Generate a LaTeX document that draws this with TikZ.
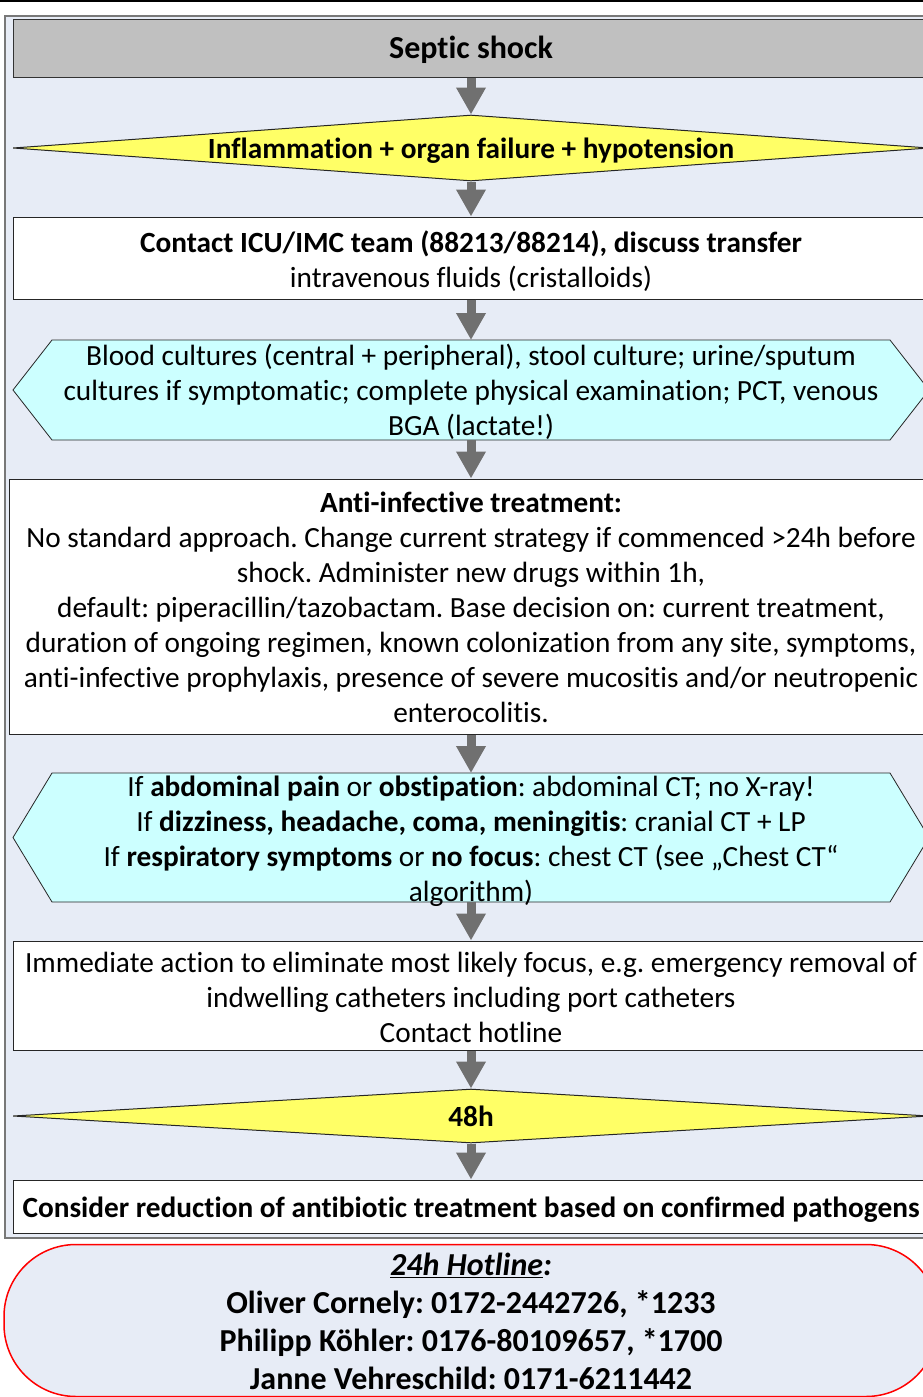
\documentclass[tikz,border=0pt]{standalone}
\usepackage{fontspec}
\setmainfont{Carlito}[Ligatures={TeX,CommonOff}]
\usetikzlibrary{shapes.geometric,arrows.meta}
\pgfdeclarelayer{back}
\pgfdeclarelayer{mid}
\pgfsetlayers{back,mid,main}
\definecolor{panelbg}{RGB}{231,236,246}
\definecolor{panelline}{RGB}{120,120,120}
\definecolor{hdrfill}{RGB}{192,192,192}
\definecolor{decfill}{RGB}{255,255,102}
\definecolor{hexfill}{RGB}{204,255,255}
\definecolor{arrowgrey}{RGB}{112,112,112}
\definecolor{hotred}{RGB}{255,0,0}
\newcommand\fs{\fontsize{29.3}{35}\selectfont}
\newcommand\fsbig{\fontsize{32}{38}\selectfont}
\newcommand\fsh{\fontsize{32}{38}\selectfont}
\frenchspacing
\begin{document}
\begin{tikzpicture}[x=1pt,y=-1pt,
  box/.style={draw=black!85, line width=1pt, fill=white, minimum width=916pt, inner sep=0pt},
  hexbox/.style={inner sep=0pt, outer sep=0pt},
  hexshape/.style={draw=black!85, line width=0.8pt, fill=hexfill},
  decision/.style={diamond, draw=black!85, line width=1pt, fill=decfill, minimum width=916pt, minimum height=66pt, inner sep=0pt},
  lbl/.style={align=center, inner sep=0pt, font=\fs},
  flowarrow/.style={draw=arrowgrey, line width=9pt, -{Triangle[width=28pt,length=27pt]}}]
\useasboundingbox (0,0) rectangle (923,1397);
\clip (0,0) rectangle (923,1397);
\begin{pgfonlayer}{back}
\fill[white] (0,0) rectangle (923,1397);
\draw[black, line width=1.5pt] (0,1) -- (923,1);
\node[draw=panelline, line width=1.5pt, fill=panelbg, minimum width=932pt, minimum height=1222pt, inner sep=0pt] (panel) at (471,627) {};
\end{pgfonlayer}
% header
\node[draw=black!80, line width=1pt, fill=hdrfill, minimum width=916pt, minimum height=57pt, inner sep=0pt] (hdr) at (471,48.5) {};
\node[lbl, font=\fsbig\bfseries, yshift=-1.5pt] (hdrt) at (hdr.center) {Septic shock};
% decision 1
\node[decision] (d1) at (471,148) {};
\node[lbl, font=\fs\bfseries, yshift=-3pt] (d1t) at (d1.center) {Inflammation + organ failure + hypotension};
% box 3
\node[box, minimum height=82pt] (b3) at (471,258) {};
\node[lbl, yshift=-3pt] (b3t) at (b3.center) {\textbf{Contact ICU/IMC team (88213/88214), discuss transfer}\\intravenous fluids (cristalloids)};
% hexagon 1
\node[hexbox, minimum width=838pt, minimum height=100pt] (h1) at (471,390) {};
\begin{pgfonlayer}{mid}
\path[hexshape] ([xshift=-39pt]h1.west) -- (h1.north west) -- (h1.north east) -- ([xshift=39pt]h1.east) -- (h1.south east) -- (h1.south west) -- cycle;
\end{pgfonlayer}
\node[lbl, yshift=-2pt] (h1t) at (h1.center) {Blood cultures (central + peripheral), stool culture; urine/sputum\\cultures if symptomatic; complete physical examination; PCT, venous\\BGA (lactate!)};
% box 4
\node[box, minimum width=924pt, minimum height=255pt] (b4) at (471,606.5) {};
\node[lbl, yshift=-1pt] (b4t) at (b4.center) {\textbf{Anti-infective treatment:}\\No standard approach. Change current strategy if commenced >24h before\\shock. Administer new drugs within 1h,\\default: piperacillin/tazobactam. Base decision on: current treatment,\\duration of ongoing regimen, known colonization from any site, symptoms,\\anti-infective prophylaxis, presence of severe mucositis and/or neutropenic\\enterocolitis.};
% hexagon 2
\node[hexbox, minimum width=838pt, minimum height=129pt] (h2) at (471,837.5) {};
\begin{pgfonlayer}{mid}
\path[hexshape] ([xshift=-39pt]h2.west) -- (h2.north west) -- (h2.north east) -- ([xshift=39pt]h2.east) -- (h2.south east) -- (h2.south west) -- cycle;
\end{pgfonlayer}
\node[lbl, yshift=-4pt] (h2t) at (h2.center) {If \textbf{abdominal pain} or \textbf{obstipation}: abdominal CT; no X-ray!\\If \textbf{dizziness, headache, coma, meningitis}: cranial CT + LP\\If \textbf{respiratory symptoms} or \textbf{no focus}: chest CT (see „Chest CT“\\algorithm)};
% box 5
\node[box, minimum height=109pt] (b5) at (471,995.5) {};
\node[lbl, yshift=-1.5pt] (b5t) at (b5.center) {Immediate action to eliminate most likely focus, e.g. emergency removal of\\indwelling catheters including port catheters\\Contact hotline};
% decision 2
\node[decision, minimum height=54pt] (d2) at (471,1116) {};
\node[lbl, font=\fs\bfseries, yshift=-0.5pt] (d2t) at (d2.center) {48h};
% box 6
\node[box, minimum height=53pt] (b6) at (471,1206.5) {};
\node[lbl, font=\fs\bfseries, yshift=-3pt] (b6t) at (b6.center) {Consider reduction of antibiotic treatment based on confirmed pathogens};
% hotline
\node[draw=hotred, line width=1.5pt, fill=panelbg, rounded corners=72pt, minimum width=934pt, minimum height=152pt, inner sep=0pt] (hot) at (471,1320.5) {};
\node[lbl, font=\fsh\bfseries, yshift=-1pt] (hott) at (471,1320) {\textit{\underline{24h Hotline}:}\\Oliver Cornely: 0172-2442726, *1233\\Philipp Köhler: 0176-80109657, *1700\\Janne Vehreschild: 0171-6211442};
% arrows
\draw[flowarrow] (hdr.south) -- (d1.north);
\draw[flowarrow] (d1.south) -- (b3.north);
\draw[flowarrow] (b3.south) -- (h1.north);
\draw[flowarrow] (h1.south) -- (b4.north);
\draw[flowarrow] (b4.south) -- (h2.north);
\draw[flowarrow] (h2.south) -- (b5.north);
\draw[flowarrow] (b5.south) -- (d2.north);
\draw[flowarrow] (d2.south) -- (b6.north);
\end{tikzpicture}
\end{document}
